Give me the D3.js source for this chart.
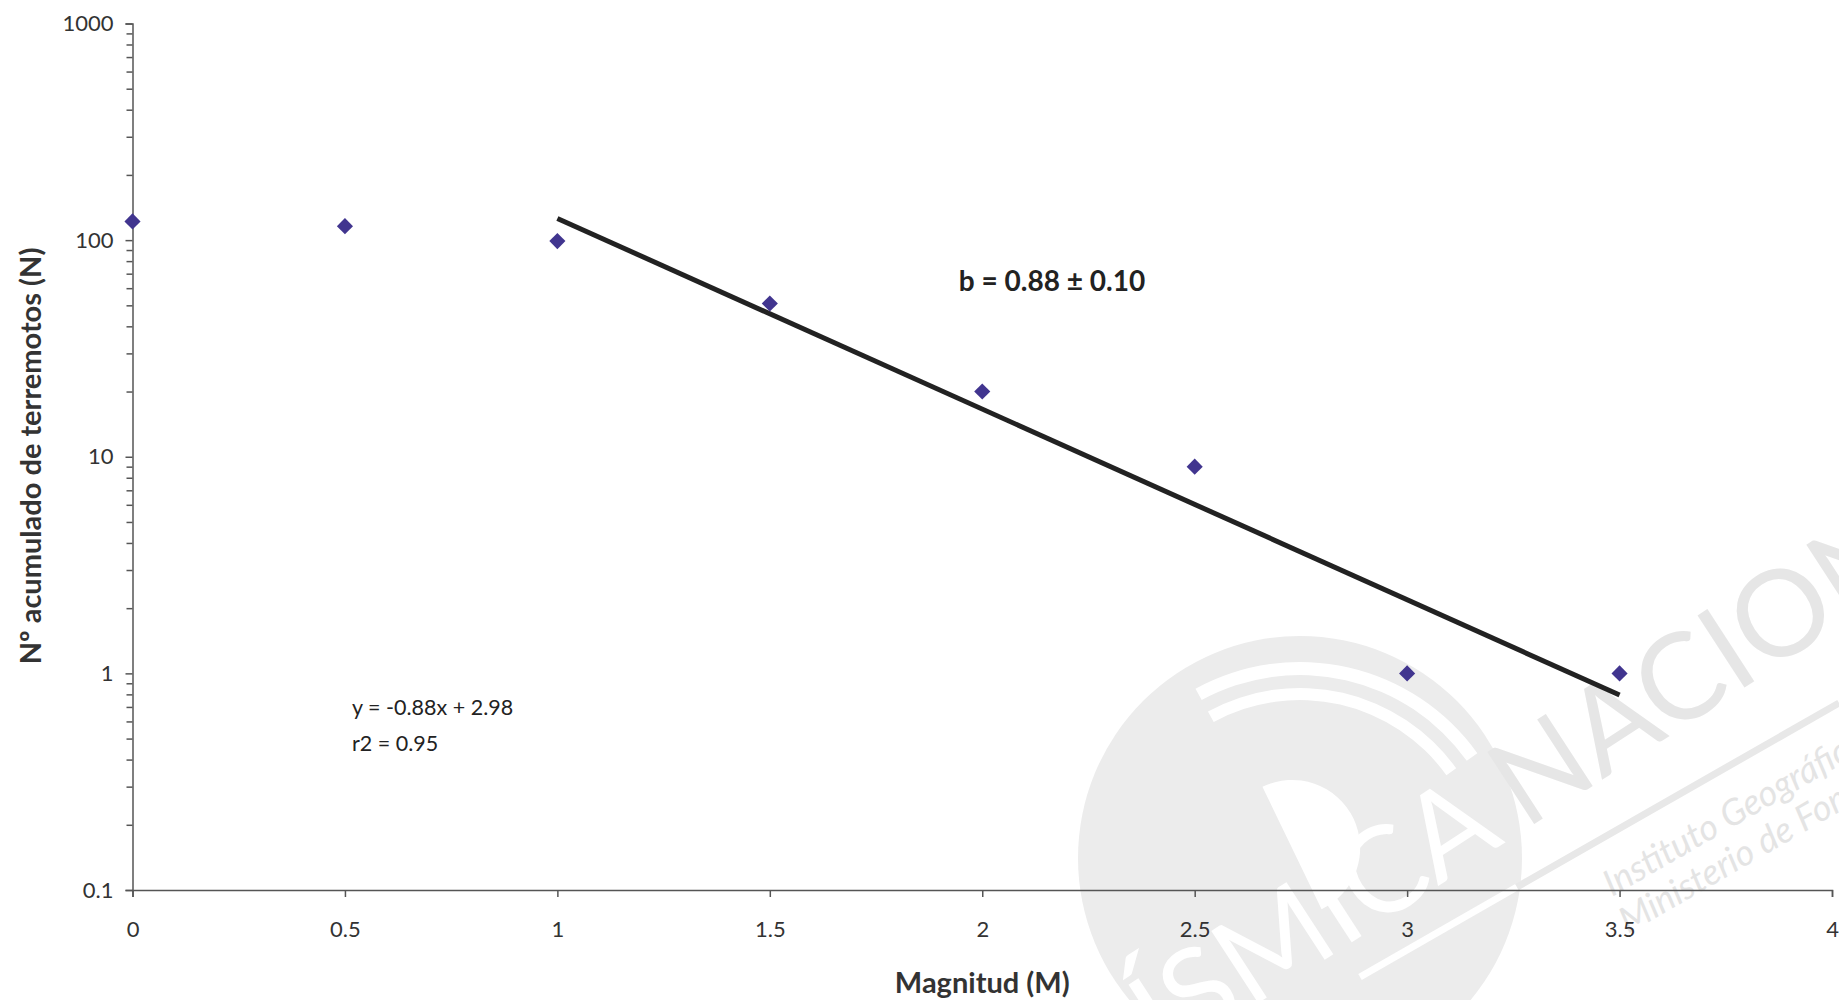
<!DOCTYPE html>
<html>
<head>
<meta charset="utf-8">
<script src="https://cdn.jsdelivr.net/npm/d3@7"></script>
<style>
  body { margin: 0; background: #fff; }
  text { font-family: Lato, "Open Sans", sans-serif; }
</style>
</head>
<body>
<div id="plot"></div>
<script>
// Gutenberg-Richter plot: cumulative number of quakes vs magnitude

  const w = 1839;
  const h = 1000;
  const margin = {top: 23.5, right: 7, bottom: 110, left: 132.5};

  const magnitudes = [0, 0.5, 1, 1.5, 2, 2.5, 3, 3.5];
  const counts = [122, 116, 99, 51, 20, 9, 1, 1];

  // fitted line log10(N) = a + b*M, drawn over the fit range
  const fitSlope = -0.88;
  const fitIntercept = 2.98;
  const fitRange = [1, 3.5];

  const xTicks = [0, 0.5, 1, 1.5, 2, 2.5, 3, 3.5, 4];
  const yTicks = [0.1, 1, 10, 100, 1000];

  const xScale = d3.scaleLinear()
      .domain([0, 4])
      .range([margin.left, w - margin.right]);

  const yScale = d3.scaleLog()
      .domain([0.1, 1000])
      .range([h - margin.bottom, margin.top]);

  const svg = d3.select("#plot")
    .append("svg")
      .attr("width", w)
      .attr("height", h);

// watermark (faint logo behind the chart)

  const wm = svg.append("g").attr("class", "watermark");
  wm.append("circle")
      .attr("cx", 1300).attr("cy", 858).attr("r", 222)
      .attr("fill", "#ececec");
  [[180, 192], [205, 218]].forEach(r => {
    wm.append("path")
        .attr("transform", "translate(1300,880)")
        .attr("d", d3.arc()({innerRadius: r[0], outerRadius: r[1],
            startAngle: -0.5, endAngle: 0.95}))
        .attr("fill", "#fff");
  });
  wm.append("path")
      .attr("transform", "translate(1292,848)")
      .attr("d", d3.arc()({innerRadius: 0, outerRadius: 68,
          startAngle: -0.45, endAngle: Math.PI - 0.45}))
      .attr("fill", "#fff");
  wm.append("line")
      .attr("x1", 1517).attr("y1", 887).attr("x2", 1360).attr("y2", 977)
      .attr("stroke", "#fff").attr("stroke-width", 7);
  wm.append("line")
      .attr("x1", 1517).attr("y1", 887).attr("x2", 1839).attr("y2", 703)
      .attr("stroke", "#e8e8e8").attr("stroke-width", 7);
  wm.append("text")
      .attr("transform", "translate(1506,842) rotate(-33)")
      .attr("text-anchor", "end")
      .attr("font-size", 120)
      .attr("fill", "#fff")
      .text("SÍSMICA");
  wm.append("text")
      .attr("transform", "translate(1525,830) rotate(-33)")
      .attr("font-size", 120)
      .attr("fill", "#e6e6e6")
      .text("NACIONAL");
  wm.append("text")
      .attr("transform", "translate(1612,897) rotate(-30)")
      .attr("font-size", 36)
      .attr("font-style", "italic")
      .attr("fill", "#e4e4e4")
      .text("Instituto Geográfico Nacional");
  wm.append("text")
      .attr("transform", "translate(1628,934) rotate(-30)")
      .attr("font-size", 36)
      .attr("font-style", "italic")
      .attr("fill", "#e4e4e4")
      .text("Ministerio de Fomento");

// axes

  const xAxis = d3.axisBottom(xScale)
      .tickValues(xTicks)
      .tickSize(7)
      .tickPadding(24)
      .tickFormat(d => String(d));

  svg.append("g")
      .attr("class", "xAxis")
      .attr("transform", `translate(0, ${h - margin.bottom})`)
      .call(xAxis);

  // minor log ticks
  const minorTicks = [];
  for (let e = -1; e < 3; e++) {
    for (let m = 2; m <= 9; m++) minorTicks.push(m * Math.pow(10, e));
  }

  svg.append("g")
      .attr("class", "yMinor")
      .attr("transform", `translate(${margin.left}, 0)`)
      .call(d3.axisLeft(yScale).tickValues(minorTicks).tickSize(6).tickFormat(""))
      .call(g => g.select(".domain").remove());

  const yAxis = d3.axisLeft(yScale)
      .tickValues(yTicks)
      .tickSize(7)
      .tickPadding(12)
      .tickFormat(d => String(d));

  svg.append("g")
      .attr("class", "yAxis")
      .attr("transform", `translate(${margin.left}, 0)`)
      .call(yAxis);

  svg.selectAll(".xAxis path, .xAxis line, .yAxis path, .yAxis line, .yMinor line")
      .attr("stroke", "#555")
      .attr("stroke-width", 1.5);
  svg.selectAll(".xAxis text, .yAxis text")
      .attr("font-size", 22)
      .attr("fill", "#333");

// trend line

  const fit = fitRange.map(m => ({m: m, n: Math.pow(10, fitIntercept + fitSlope * m)}));
  svg.append("path")
      .datum(fit)
      .attr("d", d3.line().x(d => xScale(d.m)).y(d => yScale(d.n)))
      .attr("stroke", "#222")
      .attr("stroke-width", 5)
      .attr("fill", "none");

// points

  const diamond = d3.symbol().type(d3.symbolSquare).size(130);
  svg.append("g")
    .selectAll("path")
    .data(magnitudes.map((m, i) => ({m: m, n: counts[i]})))
    .enter().append("path")
      .attr("d", diamond)
      .attr("transform", d => `translate(${xScale(d.m)}, ${yScale(d.n)}) rotate(45)`)
      .attr("fill", "#41358f");

// labels

  svg.append("text")
      .attr("x", 1052).attr("y", 291)
      .attr("text-anchor", "middle")
      .attr("font-size", 28)
      .attr("font-weight", "bold")
      .attr("fill", "#222")
      .text("b = 0.88 ± 0.10");

  svg.append("text")
      .attr("x", 352).attr("y", 715)
      .attr("font-size", 21.5)
      .attr("fill", "#222")
      .text("y = -0.88x + 2.98");
  svg.append("text")
      .attr("x", 352).attr("y", 751)
      .attr("font-size", 21.5)
      .attr("fill", "#222")
      .text("r2 = 0.95");

  svg.append("text")
      .attr("x", (margin.left + w - margin.right) / 2).attr("y", 993)
      .attr("text-anchor", "middle")
      .attr("font-size", 29)
      .attr("font-weight", "bold")
      .attr("fill", "#333")
      .text("Magnitud (M)");

  svg.append("text")
      .attr("transform", "translate(41, 456) rotate(-90)")
      .attr("text-anchor", "middle")
      .attr("font-size", 29)
      .attr("font-weight", "bold")
      .attr("fill", "#333")
      .text("Nº acumulado de terremotos (N)");
</script>
</body>
</html>
